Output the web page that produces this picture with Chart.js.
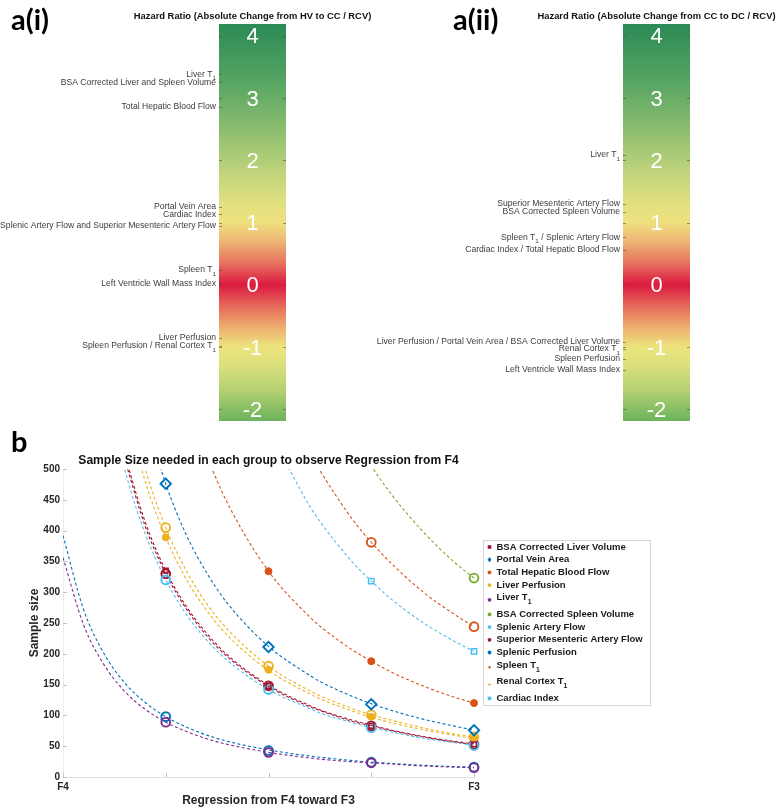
<!DOCTYPE html>
<html>
<head>
<meta charset="utf-8">
<title>Hazard ratios and sample size</title>
<script src="https://cdn.jsdelivr.net/npm/chart.js@4.4.1/dist/chart.umd.min.js"></script>
<style>
html,body{margin:0;padding:0;background:#fff;}
body{position:relative;width:777px;height:810px;overflow:hidden;}
canvas{position:absolute;}
.tag{position:absolute;font-family:Lato,"Open Sans",sans-serif;font-weight:700;font-size:29px;line-height:1;color:#000;}
</style>
</head>
<body>
<canvas id="hv" width="388" height="425" style="left:0;top:0"></canvas>
<canvas id="dc" width="477" height="425" style="left:300px;top:0"></canvas>
<canvas id="ss" width="777" height="370" style="left:0;top:440px"></canvas>
<div class="tag" style="left:11px;top:4px">a(i)</div>
<div class="tag" style="left:453px;top:4px">a(ii)</div>
<div class="tag" style="left:11px;top:426px">b</div>
<script>
// ================= DATA : panel a (colour bars) =================
const hrAxisRange = [-2.19, 4.19];
const hrTickValues = [4, 3, 2, 1, 0, -1, -2];
const hrTickLabels = ['4', '3', '2', '1', '0', '-1', '-2'];

const hvTitle = 'Hazard Ratio (Absolute Change from HV to CC / RCV)';
const hvLabels = ['Liver T₁', 'BSA Corrected Liver and Spleen Volume', 'Total Hepatic Blood Flow',
  'Portal Vein Area', 'Cardiac Index', 'Splenic Artery Flow and Superior Mesenteric Artery Flow',
  'Spleen T₁', 'Left Ventricle Wall Mass Index', 'Liver Perfusion', 'Spleen Perfusion / Renal Cortex T₁'];
const hvValues = [3.38, 3.25, 2.86, 1.25, 1.13, 0.95, 0.24, 0.02, -0.85, -0.98];

const dcTitle = 'Hazard Ratio (Absolute Change from CC to DC / RCV)';
const dcLabels = ['Liver T₁', 'Superior Mesenteric Artery Flow', 'BSA Corrected Spleen Volume',
  'Spleen T₁ / Splenic Artery Flow', 'Cardiac Index / Total Hepatic Blood Flow',
  'Liver Perfusion / Portal Vein Area / BSA Corrected Liver Volume', 'Renal Cortex T₁',
  'Spleen Perfusion', 'Left Ventricle Wall Mass Index'];
const dcValues = [2.09, 1.30, 1.17, 0.76, 0.56, -0.92, -1.03, -1.19, -1.37];

// ================= DATA : panel b (sample size) =================
const ssTitle = 'Sample Size needed in each group to observe Regression from F4';
const xTickValues = [0, 1];
const xTickLabels = ['F4', 'F3'];
const regressionX = [0, 0.05, 0.1, 0.15, 0.2, 0.25, 0.3, 0.35, 0.4, 0.5, 0.6, 0.625, 0.7, 0.75, 0.8, 0.875, 0.95, 1];
const stageX = [0.25, 0.5, 0.75, 1];

const seriesNames = ['BSA Corrected Liver Volume', 'Portal Vein Area', 'Total Hepatic Blood Flow',
  'Liver Perfusion', 'Liver T₁', 'BSA Corrected Spleen Volume', 'Splenic Artery Flow',
  'Superior Mesenteric Artery Flow', 'Splenic Perfusion', 'Spleen T₁', 'Renal Cortex T₁', 'Cardiac Index'];

// dashed curves, read along regressionX (null = outside the plotted range)
const curveBsaLiverVol  = [null, null, null, 523, 414, 335, 277, 233, 198, 149, 116, 109, 93, 84, 76, 66, 58, 54];
const curvePortalVein   = [null, null, null, null, 588, 476, 393, 331, 282, 212, 165, 155, 132, 119, 108, 94, 83, 76];
const curveTotalHepatic = [null, null, null, null, null, null, 621, 522, 445, 334, 260, 245, 208, 188, 170, 148, 130, 120];
const curveLiverPerf    = [null, null, null, 608, 480, 389, 321, 270, 230, 173, 135, 127, 108, 97, 88, 77, 68, 62];
const curveLiverT1      = [356, 247, 182, 139, 110, 89, 74, 62, 53, 40, 31, 29, 25, 23, 21, 18, 16, 15];
const curveBsaSpleenVol = [null, null, null, null, null, null, null, null, null, null, null, null, 559, 505, 458, 399, 350, 323];
const curveSplenicArt   = [null, null, 653, 500, 395, 320, 264, 222, 189, 142, 111, 104, 89, 80, 73, 63, 56, 51];
const curveSma          = [null, null, null, 516, 407, 330, 273, 229, 195, 147, 114, 108, 91, 83, 75, 65, 57, 53];
const curveSplenicPerf  = [392, 272, 200, 153, 121, 98, 81, 68, 58, 44, 34, 32, 27, 24, 22, 19, 17, 16];
const curveSpleenT1     = [null, null, null, null, null, null, null, null, null, null, 527, 498, 422, 381, 346, 301, 265, 244];
const curveRenalT1      = [null, null, null, 633, 500, 405, 335, 281, 240, 180, 140, 132, 112, 101, 92, 80, 70, 65];
const curveCardiac      = [null, null, null, null, null, null, null, null, null, 565, 440, 415, 352, 318, 288, 251, 221, 204];

// markers, read at stageX
const markBsaLiverVol  = [335, 148, 83, 53];
const markPortalVein   = [476, 211, 118, 76];
const markTotalHepatic = [null, 334, 188, 120];
const markLiverPerf    = [389, 174, 98, 63];
const markLiverT1      = [89, 40, 23, 15];
const markBsaSpleenVol = [null, null, null, 323];
const markSplenicArt   = [320, 142, 80, 51];
const markSma          = [330, 148, 83, 53];
const markSplenicPerf  = [98, 43, 24, 16];
const markSpleenT1     = [null, null, 381, 244];
const markRenalT1      = [405, 180, 101, 65];
const markCardiac      = [null, null, 318, 204];

const curveList = [curveBsaLiverVol, curvePortalVein, curveTotalHepatic, curveLiverPerf, curveLiverT1,
  curveBsaSpleenVol, curveSplenicArt, curveSma, curveSplenicPerf, curveSpleenT1, curveRenalT1, curveCardiac];
const markList = [markBsaLiverVol, markPortalVein, markTotalHepatic, markLiverPerf, markLiverT1,
  markBsaSpleenVol, markSplenicArt, markSma, markSplenicPerf, markSpleenT1, markRenalT1, markCardiac];

// ================= STYLE =================
const FONT = '"Liberation Sans", Arial, Helvetica, sans-serif';
Chart.defaults.font.family = FONT;

const seriesStyle = [
  { color: '#A2142F', style: 'rect',    filled: false, r: 3.3, bw: 1.5, leg: 'rect' },
  { color: '#0072BD', style: 'rectRot', filled: false, r: 5.2, bw: 1.9, leg: 'diamond' },
  { color: '#D95319', style: 'circle',  filled: true,  r: 3.5, bw: 1,   leg: 'dot' },
  { color: '#EDB120', style: 'circle',  filled: true,  r: 3.5, bw: 1,   leg: 'dot' },
  { color: '#7E2F8E', style: 'circle',  filled: false, r: 4.4, bw: 1.9, leg: 'dot' },
  { color: '#77AC30', style: 'circle',  filled: false, r: 4.4, bw: 1.9, leg: 'dot' },
  { color: '#4DBEEE', style: 'circle',  filled: false, r: 4.4, bw: 1.9, leg: 'dot' },
  { color: '#A2142F', style: 'circle',  filled: false, r: 4.4, bw: 1.9, leg: 'dot' },
  { color: '#0072BD', style: 'circle',  filled: false, r: 4.4, bw: 1.9, leg: 'dot' },
  { color: '#D95319', style: 'circle',  filled: false, r: 4.4, bw: 1.9, leg: 'tiny' },
  { color: '#EDB120', style: 'circle',  filled: false, r: 4.4, bw: 1.9, leg: 'dash' },
  { color: '#4DBEEE', style: 'rect',    filled: false, r: 3.8, bw: 1.5, leg: 'rect' }
];

const barStops = [
  [4.19, '#2b8a55'], [3.3, '#55a462'], [2.5, '#8bbd6f'], [1.8, '#c0d47c'], [1.3, '#e2e07f'],
  [1.0, '#efe07f'], [0.7, '#eeb575'], [0.35, '#e6735f'], [0.0, '#dc1a40'], [-0.35, '#e56a5a'],
  [-0.7, '#eeb070'], [-1.0, '#ece47d'], [-1.3, '#dbe07c'], [-1.7, '#b3d072'], [-2.19, '#6cb35c']
];

// draw text where "₁" is rendered as a real subscript
function drawRich(ctx, text, x, y, size, weight, align, color) {
  const parts = text.split(/(₁)/).filter(s => s.length);
  const mainF = weight + ' ' + size + 'px ' + FONT;
  const subF = weight + ' ' + (size * 0.72).toFixed(2) + 'px ' + FONT;
  let total = 0;
  const widths = parts.map(p => { ctx.font = p === '₁' ? subF : mainF; const w = ctx.measureText(p === '₁' ? '1' : p).width; total += w; return w; });
  let cx = align === 'right' ? x - total : (align === 'center' ? x - total / 2 : x);
  ctx.fillStyle = color;
  ctx.textAlign = 'left';
  ctx.textBaseline = 'middle';
  parts.forEach((p, i) => {
    if (p === '₁') { ctx.font = subF; ctx.fillText('1', cx, y + size * 0.5); }
    else { ctx.font = mainF; ctx.fillText(p, cx, y); }
    cx += widths[i];
  });
}

function barGradient(chart) {
  const { ctx, chartArea, scales } = chart;
  if (!chartArea || !scales.y) return '#dddddd';
  const y = scales.y;
  const top = y.getPixelForValue(hrAxisRange[1]);
  const bot = y.getPixelForValue(hrAxisRange[0]);
  const g = ctx.createLinearGradient(0, top, 0, bot);
  barStops.forEach(([v, c]) => g.addColorStop(Math.min(1, Math.max(0, (y.getPixelForValue(v) - top) / (bot - top))), c));
  return g;
}

function colorbar(canvasId, title, labels, values, pad) {
  return new Chart(document.getElementById(canvasId), {
    type: 'bar',
    data: {
      labels: ['HR'],
      datasets: [{
        data: [[hrAxisRange[0], hrAxisRange[1]]],
        backgroundColor: ctx => barGradient(ctx.chart),
        borderWidth: 0, barPercentage: 1, categoryPercentage: 1
      }]
    },
    options: {
      responsive: false, animation: false, devicePixelRatio: 1,
      layout: { padding: pad },
      plugins: { legend: { display: false }, tooltip: { enabled: false } },
      scales: {
        x: { display: false },
        y: { display: false, min: hrAxisRange[0], max: hrAxisRange[1] }
      }
    },
    plugins: [{
      id: 'cbText',
      afterDatasetsDraw(chart) {
        const { ctx, chartArea: a, scales: { y } } = chart;
        const cx = (a.left + a.right) / 2;
        ctx.save();
        // title
        ctx.font = 'bold 9.4px ' + FONT;
        ctx.fillStyle = '#111';
        ctx.textAlign = 'center'; ctx.textBaseline = 'middle';
        ctx.fillText(title, cx, 16);
        // ticks
        ctx.strokeStyle = 'rgba(70,70,70,0.55)';
        ctx.lineWidth = 1;
        hrTickValues.forEach(v => {
          const py = Math.round(y.getPixelForValue(v)) + 0.5;
          ctx.beginPath();
          ctx.moveTo(a.left, py); ctx.lineTo(a.left + 3, py);
          ctx.moveTo(a.right - 3, py); ctx.lineTo(a.right, py);
          ctx.stroke();
        });
        values.forEach(v => {
          const py = Math.round(y.getPixelForValue(v)) + 0.5;
          ctx.beginPath(); ctx.moveTo(a.left, py); ctx.lineTo(a.left + 3, py); ctx.stroke();
        });
        // numbers inside the bar
        ctx.font = '22px ' + FONT;
        ctx.fillStyle = '#ffffff';
        ctx.textAlign = 'center'; ctx.textBaseline = 'middle';
        hrTickValues.forEach((v, i) => ctx.fillText(hrTickLabels[i], cx, y.getPixelForValue(v) + 1.5));
        // category labels
        labels.forEach((t, i) => drawRich(ctx, t, a.left - 3, y.getPixelForValue(values[i]), 8.6, 'normal', 'right', '#3c3c3c'));
        ctx.restore();
      }
    }]
  });
}

colorbar('hv', hvTitle, hvLabels, hvValues, { left: 219, right: 102, top: 24, bottom: 4 });
colorbar('dc', dcTitle, dcLabels, dcValues, { left: 323, right: 87, top: 24, bottom: 4 });

// ================= panel b =================
const datasets = [];
curveList.forEach((arr, i) => {
  const s = seriesStyle[i];
  datasets.push({
    type: 'line', label: seriesNames[i] + ' fit',
    data: regressionX.map((x, j) => ({ x, y: arr[j] })).filter(p => p.y !== null),
    borderColor: s.color, borderWidth: 1.1, borderDash: [3, 2.4],
    pointRadius: 0, fill: false, cubicInterpolationMode: 'monotone', order: 20
  });
});
markList.forEach((arr, i) => {
  const s = seriesStyle[i];
  datasets.push({
    type: 'line', label: seriesNames[i],
    data: stageX.map((x, j) => ({ x, y: arr[j] })).filter(p => p.y !== null),
    showLine: false, clip: false,
    pointStyle: s.style, pointRadius: s.r, pointBorderWidth: s.bw,
    pointBorderColor: s.color, pointBackgroundColor: s.filled ? s.color : 'rgba(255,255,255,0)',
    order: 1
  });
});

const ssPlugin = {
  id: 'ssExtras',
  afterDraw(chart) {
    const { ctx, chartArea: a, scales: { x, y } } = chart;
    ctx.save();
    // title
    ctx.font = 'bold 12.1px ' + FONT;
    ctx.fillStyle = '#111';
    ctx.textAlign = 'center'; ctx.textBaseline = 'middle';
    ctx.fillText(ssTitle, (a.left + a.right) / 2, a.top - 8);
    // inward tick marks
    ctx.strokeStyle = '#c4c4c4'; ctx.lineWidth = 1;
    [0, 0.25, 0.5, 0.75, 1].forEach(v => {
      const px = Math.round(x.getPixelForValue(v)) + 0.5;
      ctx.beginPath(); ctx.moveTo(px, a.bottom); ctx.lineTo(px, a.bottom - 4); ctx.stroke();
    });
    for (let v = 0; v <= 500; v += 50) {
      const py = Math.round(y.getPixelForValue(v)) + 0.5;
      ctx.beginPath(); ctx.moveTo(a.left, py); ctx.lineTo(a.left + 4, py); ctx.stroke();
    }
    // legend
    const bx = a.right + 9.5, by = a.top + 71.5, bw = 167, bh = 165;
    ctx.fillStyle = '#fff';
    ctx.fillRect(bx, by, bw, bh);
    ctx.strokeStyle = '#d6d6d6'; ctx.lineWidth = 1;
    ctx.strokeRect(bx, by, bw, bh);
    let ly = a.top + 78;
    seriesNames.forEach((name, i) => {
      const s = seriesStyle[i];
      const hasSub = name.indexOf('₁') >= 0;
      const mx = bx + 6;
      ctx.fillStyle = s.color;
      if (s.leg === 'rect') ctx.fillRect(mx - 1.8, ly - 1.8, 3.6, 3.6);
      else if (s.leg === 'diamond') { ctx.beginPath(); ctx.moveTo(mx, ly - 2.6); ctx.lineTo(mx + 2, ly); ctx.lineTo(mx, ly + 2.6); ctx.lineTo(mx - 2, ly); ctx.closePath(); ctx.fill(); }
      else if (s.leg === 'tiny') { ctx.beginPath(); ctx.arc(mx, ly + (hasSub ? 2 : 0), 1.2, 0, Math.PI * 2); ctx.fill(); }
      else if (s.leg === 'dash') { ctx.fillRect(mx - 1.5, ly + 2, 3, 1.4); }
      else { ctx.beginPath(); ctx.arc(mx, ly + (hasSub ? 2 : 0), 1.9, 0, Math.PI * 2); ctx.fill(); }
      drawRich(ctx, name, bx + 13, ly, 9.5, 'bold', 'left', '#1a1a1a');
      ly += hasSub ? 16.6 : 12.7;
    });
    ctx.restore();
  }
};

new Chart(document.getElementById('ss'), {
  type: 'line',
  data: { datasets },
  options: {
    responsive: false, animation: false, devicePixelRatio: 1,
    layout: { padding: { left: 0, right: 303, top: 29, bottom: 0 } },
    plugins: { legend: { display: false }, tooltip: { enabled: false } },
    scales: {
      x: {
        type: 'linear', min: 0, max: 1,
        afterFit(s) { s.height = 33; },
        grid: { display: false, drawTicks: false },
        border: { display: true, color: '#e2e2e2' },
        ticks: {
          stepSize: 0.25, autoSkip: false, maxRotation: 0, padding: 4, color: '#262626',
          font: { size: 10, weight: 'bold' },
          callback: v => { const k = xTickValues.indexOf(v); return k >= 0 ? xTickLabels[k] : ''; }
        },
        title: { display: true, text: 'Regression from F4 toward F3', color: '#262626', font: { size: 12, weight: 'bold' }, padding: { top: 0, bottom: 2 } }
      },
      y: {
        min: 0, max: 500,
        afterFit(s) { s.width = 63; },
        grid: { display: false, drawTicks: false },
        border: { display: true, color: '#ececec' },
        ticks: { stepSize: 50, padding: 3, color: '#262626', font: { size: 10, weight: 'bold' } },
        title: { display: true, text: 'Sample size', color: '#262626', font: { size: 12, weight: 'bold' }, padding: { top: 27, bottom: 0 } }
      }
    }
  },
  plugins: [ssPlugin]
});
</script>
</body>
</html>
